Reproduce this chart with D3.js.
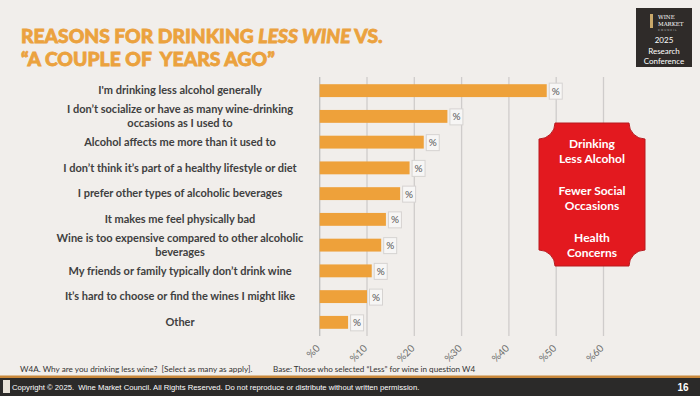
<!DOCTYPE html>
<html>
<head>
<meta charset="utf-8">
<script src="https://cdn.jsdelivr.net/npm/d3@7"></script>
<style>
  body { margin: 0; background: #f1eeeb; }
  svg { display: block; }
</style>
</head>
<body>
<div id="chart"></div>
<script>
// DATA
var reasons = [
  ["I'm drinking less alcohol generally"],
  ["I don\u2019t socialize or have as many wine-drinking", "occasions as I used to"],
  ["Alcohol affects me more than it used to"],
  ["I don\u2019t think it\u2019s part of a healthy lifestyle or diet"],
  ["I prefer other types of alcoholic beverages"],
  ["It makes me feel physically bad"],
  ["Wine is too expensive compared to other alcoholic", "beverages"],
  ["My friends or family typically don\u2019t drink wine"],
  ["It\u2019s hard to choose or find the wines I might like"],
  ["Other"]
];
var values = [48, 27, 22, 19, 17, 14, 13, 11, 10, 6];
var tickValues = [0, 10, 20, 30, 40, 50, 60];
var tickLabels = ['%0', '%10', '%20', '%30', '%40', '%50', '%60'];
var calloutLines = ['Drinking', 'Less Alcohol', '', 'Fewer Social', 'Occasions', '', 'Health', 'Concerns'];

// LAYOUT
var width = 700;
var height = 396;
var orange = '#eea13a';
var labelFont = 'Lato, "Open Sans", sans-serif';

var svg = d3.select('#chart')
  .append('svg')
  .attr('width', width)
  .attr('height', height);

svg.append('rect')
  .attr('width', width)
  .attr('height', height)
  .attr('fill', '#f1eeeb');

// shrink or grow the font so the text hits a target width
function fitWidth(sel, target, size) {
  var w = sel.node().getComputedTextLength();
  sel.style('font-size', (size * target / w) + 'px');
}

// TITLE
var title = svg.append('g')
  .attr('fill', '#eba23e')
  .attr('stroke', '#eba23e')
  .attr('stroke-width', 0.8)
  .style('font-family', 'Lato, sans-serif')
  .style('font-weight', 900);

var t1 = title.append('text')
  .attr('x', 21)
  .attr('y', 43)
  .style('font-size', '23px');
t1.append('tspan').text('REASONS FOR DRINKING ');
t1.append('tspan').style('font-style', 'italic').text('LESS WINE');
t1.append('tspan').text(' VS.');
fitWidth(t1, 362, 23);

var t2 = title.append('text')
  .attr('x', 21)
  .attr('y', 66)
  .style('font-size', '23px')
  .style('white-space', 'pre')
  .text('\u201cA COUPLE OF  YEARS AGO\u201d');
fitWidth(t2, 254, 23);

// LOGO BOX
var logo = svg.append('g');
logo.append('rect')
  .attr('x', 636).attr('y', 8)
  .attr('width', 56).attr('height', 59)
  .attr('fill', '#2f2b29');
logo.append('rect')
  .attr('x', 650).attr('y', 14)
  .attr('width', 3).attr('height', 14)
  .attr('fill', '#c9a86a');
logo.append('text')
  .attr('x', 658).attr('y', 19)
  .attr('fill', '#fff')
  .style('font-family', '"DejaVu Serif", serif')
  .style('font-size', '5.5px')
  .text('WINE');
logo.append('text')
  .attr('x', 658).attr('y', 26)
  .attr('fill', '#fff')
  .style('font-family', '"DejaVu Serif", serif')
  .style('font-size', '5.5px')
  .text('MARKET');
logo.append('text')
  .attr('x', 658).attr('y', 31)
  .attr('fill', '#bbb')
  .style('font-family', '"DejaVu Sans", sans-serif')
  .style('font-size', '2.8px')
  .style('letter-spacing', '1px')
  .text('COUNCIL');
['2025', 'Research', 'Conference'].forEach(function(s, i) {
  logo.append('text')
    .attr('x', 664).attr('y', 43 + i * 10.5)
    .attr('text-anchor', 'middle')
    .attr('fill', '#fff')
    .style('font-family', labelFont)
    .style('font-size', '8px')
    .text(s);
});

// SCALES
var x = d3.scaleLinear()
  .domain([0, 60])
  .range([319.7, 603.5]);

var y = d3.scaleBand()
  .domain(d3.range(values.length))
  .range([77, 336])
  .paddingInner(0.5)
  .paddingOuter(0.28);

// GRID LINES
svg.append('g')
  .selectAll('line')
  .data(tickValues)
  .enter()
  .append('line')
  .attr('x1', function(d) { return x(d); })
  .attr('x2', function(d) { return x(d); })
  .attr('y1', 77)
  .attr('y2', 336)
  .attr('stroke', function(d) { return d === 0 ? '#bdbdbd' : '#cfcccb'; })
  .attr('stroke-width', 1.3);

// TICK LABELS (ROTATED)
svg.append('g')
  .selectAll('text')
  .data(tickValues)
  .enter()
  .append('text')
  .attr('transform', function(d) { return 'translate(' + (x(d) - 4) + ',344) rotate(-45)'; })
  .attr('text-anchor', 'end')
  .attr('dy', '0.7em')
  .attr('fill', '#6e6e6e')
  .style('font-family', labelFont)
  .style('font-size', '10px')
  .text(function(d, i) { return tickLabels[i]; });

// BARS
svg.append('g')
  .selectAll('rect')
  .data(values)
  .enter()
  .append('rect')
  .attr('x', x(0))
  .attr('y', function(d, i) { return y(i); })
  .attr('width', function(d) { return x(d) - x(0); })
  .attr('height', y.bandwidth())
  .attr('fill', orange);

// VALUE LABELS
var vl = svg.append('g')
  .selectAll('g')
  .data(values)
  .enter()
  .append('g')
  .attr('transform', function(d, i) {
    return 'translate(' + (x(d) + 2) + ',' + (y(i) + y.bandwidth() / 2) + ')';
  });
vl.append('rect')
  .attr('x', 0.5)
  .attr('y', -7.5)
  .attr('width', 13)
  .attr('height', 16)
  .attr('fill', '#f7f6f5')
  .attr('stroke', '#d6d3d1')
  .attr('stroke-width', 1);
vl.append('text')
  .attr('x', 7)
  .attr('y', 0.5)
  .attr('dy', '0.35em')
  .attr('text-anchor', 'middle')
  .attr('fill', '#555')
  .style('font-family', labelFont)
  .style('font-size', '10px')
  .text('%');

// CATEGORY LABELS
var cl = svg.append('g')
  .selectAll('text')
  .data(reasons)
  .enter()
  .append('text')
  .attr('x', 180)
  .attr('y', function(d, i) { return y(i) + y.bandwidth() / 2; })
  .attr('text-anchor', 'middle')
  .attr('fill', '#404040')
  .style('font-family', labelFont)
  .style('font-weight', 700)
  .style('font-size', '11px');
cl.selectAll('tspan')
  .data(function(d) { return d; })
  .enter()
  .append('tspan')
  .attr('x', 180)
  .attr('dy', function(d, j, nodes) {
    var n = nodes.length;
    return j === 0 ? (0.35 - (n - 1) * 0.65) + 'em' : '1.3em';
  })
  .text(function(d) { return d; });

// RED CALLOUT
var cx0 = 539, cy0 = 123, cx1 = 645, cy1 = 266, r = 16;
var callPath = 'M' + (cx0 + r) + ',' + cy0 +
  ' L' + (cx1 - r) + ',' + cy0 +
  ' A' + r + ',' + r + ' 0 0 0 ' + cx1 + ',' + (cy0 + r) +
  ' L' + cx1 + ',' + (cy1 - r) +
  ' A' + r + ',' + r + ' 0 0 0 ' + (cx1 - r) + ',' + cy1 +
  ' L' + (cx0 + r) + ',' + cy1 +
  ' A' + r + ',' + r + ' 0 0 0 ' + cx0 + ',' + (cy1 - r) +
  ' L' + cx0 + ',' + (cy0 + r) +
  ' A' + r + ',' + r + ' 0 0 0 ' + (cx0 + r) + ',' + cy0 + ' Z';
svg.append('path')
  .attr('d', callPath)
  .attr('fill', '#e3191f')
  .attr('stroke', '#b81a1f')
  .attr('stroke-width', 1);

svg.append('g')
  .selectAll('text')
  .data(calloutLines)
  .enter()
  .append('text')
  .attr('x', 592)
  .attr('y', function(d, i) { return 147.5 + i * 15.7; })
  .attr('text-anchor', 'middle')
  .attr('fill', '#fff')
  .style('font-family', labelFont)
  .style('font-weight', 700)
  .style('font-size', '12px')
  .text(function(d) { return d; });

// FOOTNOTES
svg.append('text')
  .attr('x', 20).attr('y', 372)
  .attr('fill', '#333')
  .style('font-family', labelFont)
  .style('font-size', '8.2px')
  .style('white-space', 'pre')
  .text('W4A. Why are you drinking less wine?  [Select as many as apply].');
svg.append('text')
  .attr('x', 273).attr('y', 372)
  .attr('fill', '#333')
  .style('font-family', labelFont)
  .style('font-size', '8.1px')
  .text('Base: Those who selected \u201cLess\u201d for wine in question W4');

// FOOTER BAR
svg.append('rect')
  .attr('x', 0).attr('y', 375.5)
  .attr('width', width).attr('height', 3)
  .attr('fill', '#c8873a');
svg.append('rect')
  .attr('x', 0).attr('y', 378)
  .attr('width', width).attr('height', 18)
  .attr('fill', '#2b2a29');
svg.append('rect')
  .attr('x', 3).attr('y', 380)
  .attr('width', 7).attr('height', 13)
  .attr('fill', '#e8e2d8');
svg.append('text')
  .attr('x', 12).attr('y', 389.5)
  .attr('fill', '#fff')
  .style('font-family', '"Liberation Sans", Arial, sans-serif')
  .style('font-size', '7.7px')
  .style('white-space', 'pre')
  .text('Copyright \u00a9 2025.  Wine Market Council. All Rights Reserved. Do not reproduce or distribute without written permission.');
svg.append('text')
  .attr('x', 683).attr('y', 391)
  .attr('text-anchor', 'middle')
  .attr('fill', '#fff')
  .style('font-family', '"Liberation Sans", Arial, sans-serif')
  .style('font-weight', 700)
  .style('font-size', '10px')
  .text('16');
</script>
</body>
</html>
